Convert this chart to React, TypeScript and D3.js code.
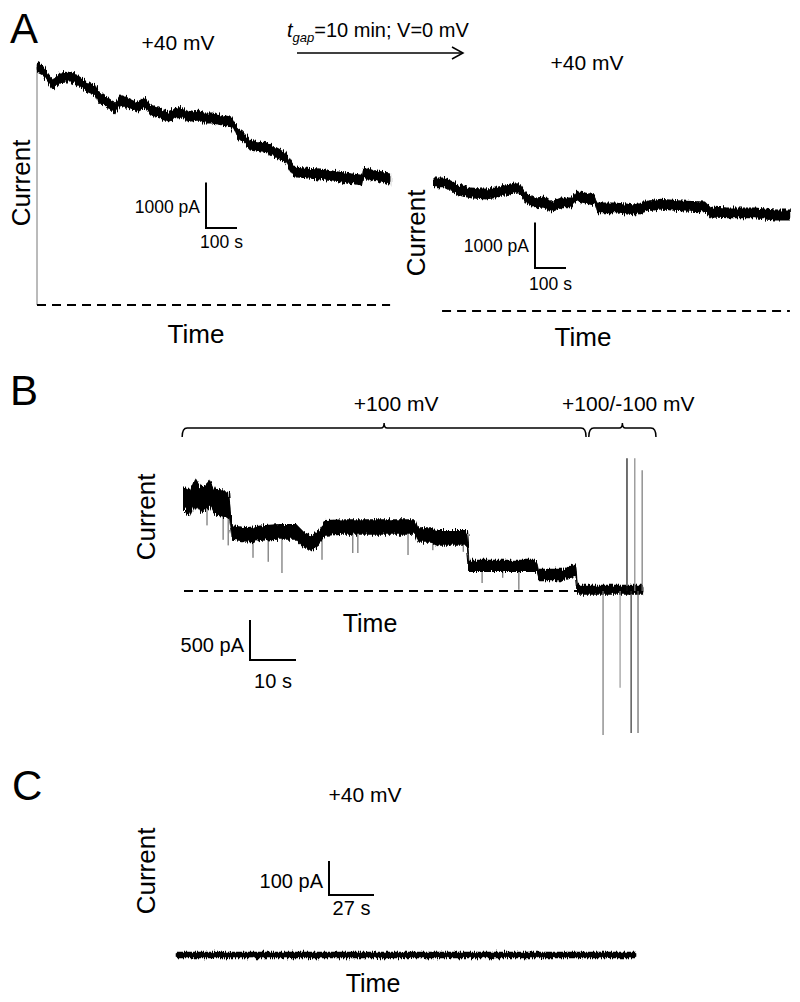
import React, { useRef, useEffect } from "react";
import * as d3 from "d3";

// Panel A, left trace (+40 mV): time (s), current (pA)
const aLeftTime = [0, 0, 19, 35, 52, 74, 97, 116, 139, 165, 187, 197, 226, 252, 268, 294, 323, 348, 365, 397, 423, 452, 471, 484, 516, 535, 565, 597, 629, 645, 665, 687, 719, 745, 774, 800, 816, 832, 871, 913, 955, 1000, 1048, 1052, 1097, 1139];
const aLeftCurrent = [0, 5230, 5165, 4990, 4835, 4990, 5010, 5010, 4900, 4790, 4725, 4570, 4460, 4330, 4505, 4440, 4350, 4460, 4285, 4220, 4130, 4220, 4240, 4130, 4175, 4110, 4110, 4065, 4020, 3800, 3690, 3515, 3475, 3450, 3340, 3255, 3075, 2925, 2900, 2880, 2835, 2790, 2745, 2900, 2835, 2770];

// Panel A, right trace (+40 mV after 10 min gap)
const aRightTime = [0, 35, 61, 77, 119, 165, 197, 229, 261, 281, 297, 326, 358, 377, 410, 442, 458, 487, 519, 526, 584, 648, 690, 732, 797, 874, 890, 948, 1035, 1100, 1148];
const aRightCurrent = [2815, 2815, 2725, 2660, 2595, 2570, 2595, 2660, 2705, 2660, 2485, 2375, 2395, 2285, 2375, 2375, 2525, 2485, 2440, 2265, 2265, 2220, 2310, 2350, 2310, 2285, 2175, 2155, 2155, 2110, 2110];
const aNoise = 85;

// Panel B trace (+100 mV then +100/-100 mV)
const bTime = [0, 1.3, 2.4, 3.5, 4.6, 5.7, 6.7, 8.5, 9.8, 10.4, 13.5, 17.0, 20.7, 24.4, 26.1, 27.8, 29.3, 30.7, 35.0, 39.3, 43.7, 48.0, 50.2, 50.9, 53.7, 55.2, 59.1, 61.5, 62.0, 68.5, 76.7, 77.2, 82.2, 85.2, 85.6, 99.8];
const bCurrent = [1140, 1100, 1240, 1140, 1160, 1225, 1110, 1100, 1075, 725, 700, 725, 740, 740, 640, 600, 665, 790, 800, 800, 800, 800, 800, 700, 700, 665, 665, 665, 315, 315, 315, 200, 200, 260, 15, 15];
const bNoise = [120, 120, 120, 120, 120, 120, 120, 120, 120, 70, 70, 70, 70, 70, 70, 70, 70, 70, 70, 70, 70, 70, 70, 70, 70, 70, 70, 70, 55, 55, 55, 55, 55, 55, 45, 45];
const bSpikeTime = [5.0, 8.5, 9.6, 15.0, 18.3, 21.3, 30.0, 36.7, 37.8, 48.7, 54.1, 60.7, 64.8, 69.3, 72.8, 81.3];
const bSpikeCurrent = [820, 640, 570, 415, 365, 225, 390, 475, 475, 450, 510, 490, 100, 165, 15, 115];
const bPulseTime = [91.1, 94.8, 96.3, 97.2, 98.0, 98.7, 99.6];
const bPulseCurrent = [-1800, -1210, 1660, -1775, 1660, -1775, 1510];
const bPulseColor = ["#777", "#999", "#111", "#333", "#888", "#666", "#777"];
const protoLabel = ["+100 mV", "+100/-100 mV"];
const protoStart = [-0.4, 88.0];
const protoEnd = [87.4, 102.6];

// Panel C trace (+40 mV)
const cTime = [0, 276];
const cCurrent = [0, 0];
const cNoise = 7;

const FONT = "'Liberation Sans', Arial, Helvetica, sans-serif";

function App() {
  const ref = useRef(null);

  useEffect(() => {
    const svg = d3.select(ref.current);
    svg.selectAll("*").remove();
    draw(svg);
  }, []);

  const text = (g, x, y, s, size, anchor = "middle") =>
    g.append("text")
      .attr("x", x).attr("y", y)
      .attr("font-size", size)
      .attr("font-family", FONT)
      .attr("text-anchor", anchor)
      .attr("fill", "#000")
      .text(s);

  const vertText = (g, x, y, s, size) =>
    g.append("text")
      .attr("transform", "translate(" + x + "," + y + ") rotate(-90)")
      .attr("font-size", size)
      .attr("font-family", FONT)
      .attr("text-anchor", "middle")
      .text(s);

  // recording noise: a solid core band plus a wider band roughened by a filter
  const band = (g, x, y, time, cur, noise) => {
    const idx = d3.range(time.length);
    const nz = (i) => (Array.isArray(noise) ? noise[i] : noise);
    const area = (k) => d3.area()
      .x((i) => x(time[i]))
      .y0((i) => y(cur[i] - k * nz(i)))
      .y1((i) => y(cur[i] + k * nz(i)))(idx);
    g.append("path")
      .attr("d", area(1.4))
      .attr("fill", "#000")
      .attr("filter", "url(#rough)");
    g.append("path")
      .attr("d", area(0.7))
      .attr("fill", "#000")
      .attr("stroke", "#000")
      .attr("stroke-width", 0.6);
  };

  const dashed = (g, x1, x2, yv) =>
    g.append("line")
      .attr("x1", x1).attr("x2", x2)
      .attr("y1", yv).attr("y2", yv)
      .attr("stroke", "#000")
      .attr("stroke-width", 2)
      .attr("stroke-dasharray", "9,6");

  const scaleBar = (g, x0, yb, w, h, vLab, hLab, size, vLabY, hLabY) => {
    g.append("path")
      .attr("d", "M" + x0 + "," + (yb - h) + "V" + yb + "H" + (x0 + w))
      .attr("fill", "none")
      .attr("stroke", "#000")
      .attr("stroke-width", 2);
    text(g, x0 - 6, vLabY, vLab, size, "end");
    text(g, x0 + w / 2, hLabY, hLab, size);
  };

  const draw = (svg) => {
    const defs = svg.append("defs");
    const f = defs.append("filter").attr("id", "rough")
      .attr("x", "-2%").attr("y", "-60%").attr("width", "104%").attr("height", "220%");
    f.append("feTurbulence").attr("type", "fractalNoise")
      .attr("baseFrequency", "1.1 0.04").attr("numOctaves", 2).attr("seed", 3)
      .attr("result", "noise");
    f.append("feDisplacementMap").attr("in", "SourceGraphic").attr("in2", "noise")
      .attr("scale", 7).attr("xChannelSelector", "R").attr("yChannelSelector", "G");

    const g = svg.append("g");

    // ---------- Panel A ----------
    text(g, 10, 43, "A", 42, "start");
    const xAL = d3.scaleLinear().domain([0, 1000]).range([37, 347]);
    const yAL = d3.scaleLinear().domain([0, 1000]).range([305, 259.5]);
    text(g, 178, 50, "+40 mV", 21);
    g.append("line")
      .attr("x1", xAL(aLeftTime[0])).attr("x2", xAL(aLeftTime[1]))
      .attr("y1", yAL(aLeftCurrent[0])).attr("y2", yAL(aLeftCurrent[1]))
      .attr("stroke", "#777").attr("stroke-width", 1);
    band(g, xAL, yAL, aLeftTime.slice(1), aLeftCurrent.slice(1), aNoise);
    dashed(g, xAL(0), xAL(1139), yAL(0));
    vertText(g, 30, 183, "Current", 26);
    text(g, 196, 343, "Time", 26);
    scaleBar(g, 206, 228, xAL(100) - xAL(0), yAL(0) - yAL(1000), "1000 pA", "100 s", 17.5, 213, 248);

    // gap annotation
    const tg = g.append("text")
      .attr("x", 287).attr("y", 37)
      .attr("font-size", 20)
      .attr("font-family", FONT);
    tg.append("tspan").attr("font-style", "italic").text("t");
    tg.append("tspan").attr("font-style", "italic").attr("font-size", 13).attr("dy", 5).text("gap");
    tg.append("tspan").attr("dy", -5).text("=10 min; V=0 mV");
    g.append("line")
      .attr("x1", 297).attr("x2", 462).attr("y1", 53).attr("y2", 53)
      .attr("stroke", "#000").attr("stroke-width", 1.5);
    g.append("path")
      .attr("d", "M452,47L463,53L452,59")
      .attr("fill", "none").attr("stroke", "#000").attr("stroke-width", 1.5);

    const xAR = d3.scaleLinear().domain([0, 1000]).range([434, 744]);
    const yAR = d3.scaleLinear().domain([0, 1000]).range([311, 265.5]);
    text(g, 587, 70, "+40 mV", 21);
    band(g, xAR, yAR, aRightTime, aRightCurrent, aNoise);
    dashed(g, xAR(26), xAR(1148), yAR(0));
    vertText(g, 425, 233, "Current", 26);
    text(g, 583, 346, "Time", 26);
    scaleBar(g, 535, 268, xAR(100) - xAR(0), yAR(0) - yAR(1000), "1000 pA", "100 s", 17.5, 252, 290);

    // ---------- Panel B ----------
    text(g, 10, 405, "B", 42, "start");
    const xB = d3.scaleLinear().domain([0, 10]).range([184, 230]);
    const yB = d3.scaleLinear().domain([0, 500]).range([591, 551]);
    const braceY = 428;
    protoLabel.forEach((lab, i) => {
      const x0 = xB(protoStart[i]);
      const x1 = xB(protoEnd[i]);
      const m = (x0 + x1) / 2;
      g.append("path")
        .attr("d",
          "M" + x0 + "," + (braceY + 9) +
          "Q" + x0 + "," + braceY + " " + (x0 + 5) + "," + braceY +
          "H" + (m - 3) +
          "Q" + m + "," + braceY + " " + m + "," + (braceY - 5) +
          "Q" + m + "," + braceY + " " + (m + 3) + "," + braceY +
          "H" + (x1 - 5) +
          "Q" + x1 + "," + braceY + " " + x1 + "," + (braceY + 9))
        .attr("fill", "none").attr("stroke", "#000").attr("stroke-width", 1.5);
      text(g, m + (i === 1 ? 6 : 12), 411, lab, 21);
    });

    const bis = d3.bisector((d) => d).right;
    bSpikeTime.forEach((t, i) => {
      const k = Math.max(0, bis(bTime, t) - 1);
      g.append("line")
        .attr("x1", xB(t)).attr("x2", xB(t))
        .attr("y1", yB(bCurrent[k])).attr("y2", yB(bSpikeCurrent[i]))
        .attr("stroke", "#555").attr("stroke-width", 1);
    });
    band(g, xB, yB, bTime, bCurrent, bNoise);
    bPulseTime.forEach((t, i) => {
      g.append("line")
        .attr("x1", xB(t)).attr("x2", xB(t))
        .attr("y1", yB(0)).attr("y2", yB(bPulseCurrent[i]))
        .attr("stroke", bPulseColor[i]).attr("stroke-width", 1.2);
    });
    dashed(g, xB(0), xB(85.9), yB(0));
    vertText(g, 155, 517, "Current", 26);
    text(g, 370, 632, "Time", 25);
    scaleBar(g, 250, 660, xB(10) - xB(0), yB(0) - yB(500), "500 pA", "10 s", 20, 652, 688);

    // ---------- Panel C ----------
    text(g, 12, 800, "C", 42, "start");
    const xC = d3.scaleLinear().domain([0, 27]).range([176, 221]);
    const yC = d3.scaleLinear().domain([0, 100]).range([955, 921]);
    text(g, 365, 802, "+40 mV", 21);
    band(g, xC, yC, cTime, cCurrent, cNoise);
    vertText(g, 155, 871, "Current", 26);
    text(g, 373, 992, "Time", 25);
    scaleBar(g, 329, 895, xC(27) - xC(0), yC(0) - yC(100), "100 pA", "27 s", 20, 888, 915);
  };

  return (
    <div style={{ position: "absolute", left: 0, top: 0 }}>
      <svg ref={ref} width={800} height={1002} style={{ display: "block", background: "#fff" }}></svg>
    </div>
  );
}

export default App;
